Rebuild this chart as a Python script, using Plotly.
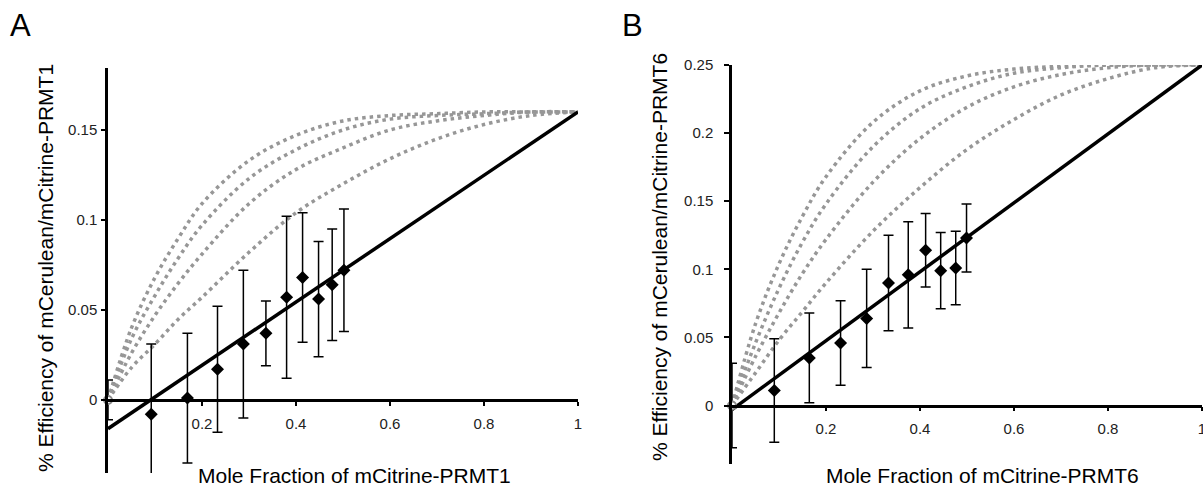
import plotly.graph_objects as go

# ---- data ----
frac_grid = [0, 0.05, 0.1, 0.15, 0.2, 0.3, 0.4, 0.5, 0.6, 0.7, 0.8, 0.9, 1.0]

# panel A (PRMT1) theoretical curves, top to bottom
curve_a1 = [0, 0.040, 0.068, 0.090, 0.109, 0.133, 0.147, 0.155, 0.158, 0.159, 0.160, 0.160, 0.160]
curve_a2 = [0, 0.034, 0.058, 0.079, 0.097, 0.123, 0.139, 0.150, 0.156, 0.158, 0.159, 0.160, 0.160]
curve_a3 = [0, 0.026, 0.047, 0.065, 0.081, 0.109, 0.128, 0.140, 0.150, 0.155, 0.158, 0.160, 0.160]
curve_a4 = [0, 0.018, 0.031, 0.045, 0.057, 0.082, 0.104, 0.120, 0.134, 0.145, 0.153, 0.158, 0.160]

# panel B (PRMT6) theoretical curves, top to bottom
curve_b1 = [0, 0.060, 0.104, 0.139, 0.168, 0.208, 0.231, 0.242, 0.247, 0.249, 0.250, 0.250, 0.250]
curve_b2 = [0, 0.046, 0.086, 0.120, 0.148, 0.190, 0.218, 0.234, 0.244, 0.248, 0.250, 0.250, 0.250]
curve_b3 = [0, 0.036, 0.068, 0.097, 0.122, 0.164, 0.196, 0.219, 0.234, 0.243, 0.248, 0.250, 0.250]
curve_b4 = [0, 0.024, 0.048, 0.069, 0.090, 0.128, 0.160, 0.188, 0.210, 0.228, 0.240, 0.248, 0.250]

# measured points
mole_a = [0, 0.092, 0.169, 0.233, 0.288, 0.336, 0.380, 0.414, 0.448, 0.477, 0.502]
eff_a = [0, -0.008, 0.001, 0.017, 0.031, 0.037, 0.057, 0.068, 0.056, 0.064, 0.072]
err_a = [0.011, 0.039, 0.036, 0.035, 0.041, 0.018, 0.045, 0.036, 0.032, 0.031, 0.034]

mole_b = [0, 0.090, 0.1645, 0.231, 0.2865, 0.333, 0.375, 0.412, 0.444, 0.476, 0.499]
eff_b = [0, 0.011, 0.035, 0.046, 0.064, 0.090, 0.096, 0.114, 0.099, 0.101, 0.123]
err_b = [0.031, 0.038, 0.033, 0.031, 0.036, 0.035, 0.039, 0.027, 0.028, 0.027, 0.025]

# linear fits
fit_x = [0, 1]
fit_a = [-0.016, 0.160]
fit_b = [-0.003, 0.250]

xtick_vals = [0.2, 0.4, 0.6, 0.8, 1]
xtick_text = ['0.2', '0.4', '0.6', '0.8', '1']
ytick_a_vals = [0, 0.05, 0.1, 0.15]
ytick_a_text = ['0', '0.05', '0.1', '0.15']
ytick_b_vals = [0, 0.05, 0.1, 0.15, 0.2, 0.25]
ytick_b_text = ['0', '0.05', '0.1', '0.15', '0.2', '0.25']

W, H = 1203, 488
FONT = 'Liberation Sans, Arial, sans-serif'
GRAY = '#979797'


def px(x):
    return x / W


def py(y):
    return 1 - y / H


fig = go.Figure()


def add_panel(xa, ya, curves, mole, eff, err, fit):
    for c in curves:
        fig.add_trace(go.Scatter(
            x=frac_grid, y=c, mode='lines', xaxis=xa, yaxis=ya,
            line=dict(color=GRAY, width=3.5, dash='3.5px,4px', shape='spline'),
            hoverinfo='skip'
        ))
    fig.add_trace(go.Scatter(
        x=fit_x, y=fit, mode='lines', xaxis=xa, yaxis=ya,
        line=dict(color='black', width=3.5)
    ))
    # zero point, drawn as a grey ring
    fig.add_trace(go.Scatter(
        x=mole[:1], y=eff[:1], mode='markers', xaxis=xa, yaxis=ya,
        marker=dict(symbol='circle', size=8, color='white',
                    line=dict(color='#8a8a8a', width=2)),
        error_y=dict(type='data', array=err[:1], color='black',
                     thickness=1.5, width=5),
        cliponaxis=False
    ))
    fig.add_trace(go.Scatter(
        x=mole[1:], y=eff[1:], mode='markers', xaxis=xa, yaxis=ya,
        marker=dict(symbol='diamond', size=10, color='black'),
        error_y=dict(type='data', array=err[1:], color='black',
                     thickness=1.5, width=5),
        cliponaxis=False
    ))


add_panel('x', 'y', [curve_a1, curve_a2, curve_a3, curve_a4],
          mole_a, eff_a, err_a, fit_a)
add_panel('x2', 'y2', [curve_b1, curve_b2, curve_b3, curve_b4],
          mole_b, eff_b, err_b, fit_b)

xaxis_common = dict(
    range=[0, 1], showgrid=False, zeroline=False, showline=True,
    linecolor='black', linewidth=2.5, ticks='outside', ticklen=4,
    tickwidth=2, tickcolor='black', tickvals=xtick_vals, ticktext=xtick_text,
    tickfont=dict(size=15, color='#222', family=FONT),
    ticklabelstandoff=5, ticklabeloverflow='allow',
    automargin=False, anchor='free'
)
yaxis_common = dict(
    showgrid=False, zeroline=False, showline=True, linecolor='black',
    linewidth=2.5, ticks='outside', tickwidth=2, tickcolor='black',
    tickfont=dict(size=15, color='#222', family=FONT), automargin=False
)

fig.update_layout(
    width=W, height=H,
    margin=dict(l=0, r=0, t=0, b=0),
    paper_bgcolor='white', plot_bgcolor='white',
    showlegend=False,
    font=dict(family=FONT, color='black'),
    xaxis=dict(xaxis_common, domain=[px(108), px(578)], position=py(400)),
    yaxis=dict(yaxis_common, domain=[py(473), py(68)], range=[-0.0406, 0.1844],
               tickvals=ytick_a_vals, ticktext=ytick_a_text, ticklen=4,
               ticklabelstandoff=1, anchor='x'),
    xaxis2=dict(xaxis_common, domain=[px(732), px(1202)], position=py(405.5)),
    yaxis2=dict(yaxis_common, domain=[py(464.3), py(65)], range=[-0.0431, 0.25],
                tickvals=ytick_b_vals, ticktext=ytick_b_text, ticklen=5,
                ticklabelstandoff=8, anchor='x2'),
)

annotations = [
    dict(text='A', x=px(8), y=py(25), xanchor='left', yanchor='middle', font=dict(size=31)),
    dict(text='B', x=px(620), y=py(25), xanchor='left', yanchor='middle', font=dict(size=31)),
    dict(text='Mole Fraction of mCitrine-PRMT1', x=px(354), y=py(475),
         xanchor='center', yanchor='middle', font=dict(size=21)),
    dict(text='Mole Fraction of mCitrine-PRMT6', x=px(982), y=py(475),
         xanchor='center', yanchor='middle', font=dict(size=21)),
    dict(text='% Efficiency of mCerulean/mCitrine-PRMT1', x=px(45), y=py(268),
         textangle=-90, xanchor='center', yanchor='middle', font=dict(size=21)),
    dict(text='% Efficiency of mCerulean/mCitrine-PRMT6', x=px(659), y=py(257),
         textangle=-90, xanchor='center', yanchor='middle', font=dict(size=21)),
]
for a in annotations:
    a.update(xref='paper', yref='paper', showarrow=False)
    a['font'].update(family=FONT, color='black')
fig.update_layout(annotations=annotations)

# the page body has a default 8px margin; remove it so the figure sits at 0,0
fig.write_html("out.html", config={'displayModeBar': False},
               post_script="document.body.style.margin='0';")
